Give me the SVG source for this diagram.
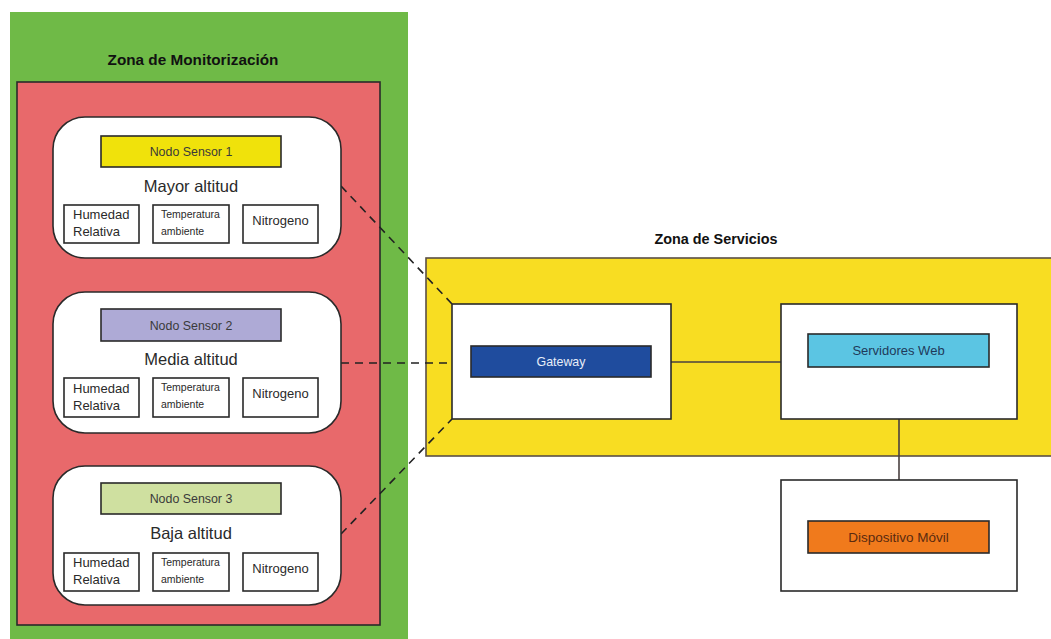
<svg xmlns="http://www.w3.org/2000/svg" width="1051" height="639" viewBox="0 0 1051 639">
  <style>
    .zone-title { font-family: "Liberation Sans", Arial, sans-serif; font-weight: bold; fill: #111; }
    .card { fill: #ffffff; stroke: #2a2a2a; stroke-width: 1.6; }
    .bar { stroke: #2a2a2a; stroke-width: 1.6; }
    .bar-label { font-family: "Liberation Sans", Arial, sans-serif; font-size: 12.4px; fill: #3a3a3a; text-anchor: middle; }
    .altitude { font-family: "Liberation Sans", Arial, sans-serif; font-size: 16.5px; fill: #2a2a2a; text-anchor: middle; }
    .cell { fill: #ffffff; stroke: #2a2a2a; stroke-width: 1.6; }
    .cell-text { font-family: "Liberation Sans", Arial, sans-serif; font-size: 13px; fill: #2a2a2a; }
    .cell-small { font-family: "Liberation Sans", Arial, sans-serif; font-size: 10.5px; fill: #2a2a2a; }
    .box { fill: #ffffff; stroke: #2a2a2a; stroke-width: 1.6; }
    .dash { fill: none; stroke: #222; stroke-width: 1.6; stroke-dasharray: 8 6; }
    .solid { fill: none; stroke: #4a4040; stroke-width: 1.6; }
  </style>

  <!-- Monitoring zone background -->
  <g id="zona-monitorizacion">
    <rect x="10" y="12" width="398" height="627" fill="#6fba47"/>
    <text class="zone-title" x="193" y="65" font-size="15.3" text-anchor="middle">Zona de Monitorización</text>
    <rect x="17" y="82" width="363" height="543" fill="#e8696b" stroke="#2a2a2a" stroke-width="1.6"/>
  </g>

  <!-- Services zone background -->
  <g id="zona-servicios">
    <text class="zone-title" x="716" y="244" font-size="14.4" text-anchor="middle">Zona de Servicios</text>
    <rect x="426" y="258" width="630" height="198" fill="#f8dd22" stroke="#5a4f45" stroke-width="1.6"/>
  </g>

  <!-- Connectors -->
  <g id="connectors">
    <line class="dash" x1="341" y1="186" x2="452" y2="304"/>
    <line class="dash" x1="341" y1="363" x2="448" y2="363"/>
    <line class="dash" x1="341" y1="534" x2="452" y2="419"/>
    <line class="solid" x1="671" y1="362" x2="781" y2="362"/>
    <line class="solid" x1="899" y1="419" x2="899" y2="480"/>
  </g>

  <!-- Sensor node 1 -->
  <g id="nodo-sensor-1">
    <rect class="card" x="53" y="117" width="288" height="141" rx="32"/>
    <rect class="bar" x="101" y="136" width="180" height="31" fill="#f0e20b"/>
    <text class="bar-label" x="191" y="155.5">Nodo Sensor 1</text>
    <text class="altitude" x="191" y="192">Mayor altitud</text>
    <rect class="cell" x="64" y="205" width="75" height="38"/>
    <text class="cell-text" x="73" y="219">Humedad</text>
    <text class="cell-text" x="73" y="236">Relativa</text>
    <rect class="cell" x="153" y="205" width="76" height="38"/>
    <text class="cell-small" x="161" y="218">Temperatura</text>
    <text class="cell-small" x="161" y="235">ambiente</text>
    <rect class="cell" x="243" y="205" width="75" height="38"/>
    <text class="cell-text" x="280.5" y="224.5" text-anchor="middle">Nitrogeno</text>
  </g>

  <!-- Sensor node 2 -->
  <g id="nodo-sensor-2">
    <rect class="card" x="53" y="292" width="288" height="141" rx="32"/>
    <rect class="bar" x="101" y="309" width="180" height="32" fill="#aeaad6"/>
    <text class="bar-label" x="191" y="329.5">Nodo Sensor 2</text>
    <text class="altitude" x="191" y="365">Media altitud</text>
    <rect class="cell" x="64" y="378" width="75" height="39"/>
    <text class="cell-text" x="73" y="393">Humedad</text>
    <text class="cell-text" x="73" y="410">Relativa</text>
    <rect class="cell" x="153" y="378" width="76" height="39"/>
    <text class="cell-small" x="161" y="391">Temperatura</text>
    <text class="cell-small" x="161" y="408">ambiente</text>
    <rect class="cell" x="243" y="378" width="75" height="39"/>
    <text class="cell-text" x="280.5" y="398" text-anchor="middle">Nitrogeno</text>
  </g>

  <!-- Sensor node 3 -->
  <g id="nodo-sensor-3">
    <rect class="card" x="53" y="466" width="288" height="139" rx="32"/>
    <rect class="bar" x="101" y="483" width="180" height="31" fill="#cfe0a0"/>
    <text class="bar-label" x="191" y="503">Nodo Sensor 3</text>
    <text class="altitude" x="191" y="539">Baja altitud</text>
    <rect class="cell" x="64" y="553" width="75" height="38"/>
    <text class="cell-text" x="73" y="567">Humedad</text>
    <text class="cell-text" x="73" y="584">Relativa</text>
    <rect class="cell" x="153" y="553" width="76" height="38"/>
    <text class="cell-small" x="161" y="566">Temperatura</text>
    <text class="cell-small" x="161" y="583">ambiente</text>
    <rect class="cell" x="243" y="553" width="75" height="38"/>
    <text class="cell-text" x="280.5" y="572.5" text-anchor="middle">Nitrogeno</text>
  </g>

  <!-- Gateway -->
  <g id="gateway">
    <rect class="box" x="452" y="304" width="219" height="115"/>
    <rect class="bar" x="471" y="346" width="180" height="31" fill="#1f4c9e"/>
    <text class="bar-label" x="561" y="365.5" style="fill:#e8eef8">Gateway</text>
  </g>

  <!-- Web servers -->
  <g id="servidores-web">
    <rect class="box" x="781" y="304" width="236" height="115"/>
    <rect class="bar" x="808" y="334" width="181" height="33" fill="#5bc5e3"/>
    <text class="bar-label" x="898.5" y="354.5" style="fill:#1f3a5a; font-size:13px">Servidores Web</text>
  </g>

  <!-- Mobile device -->
  <g id="dispositivo-movil">
    <rect class="box" x="781" y="480" width="236" height="111"/>
    <rect class="bar" x="808" y="521" width="181" height="32" fill="#f07a1c"/>
    <text class="bar-label" x="898.5" y="541.5" style="fill:#5a2a10; font-size:13.5px">Dispositivo Móvil</text>
  </g>
</svg>
